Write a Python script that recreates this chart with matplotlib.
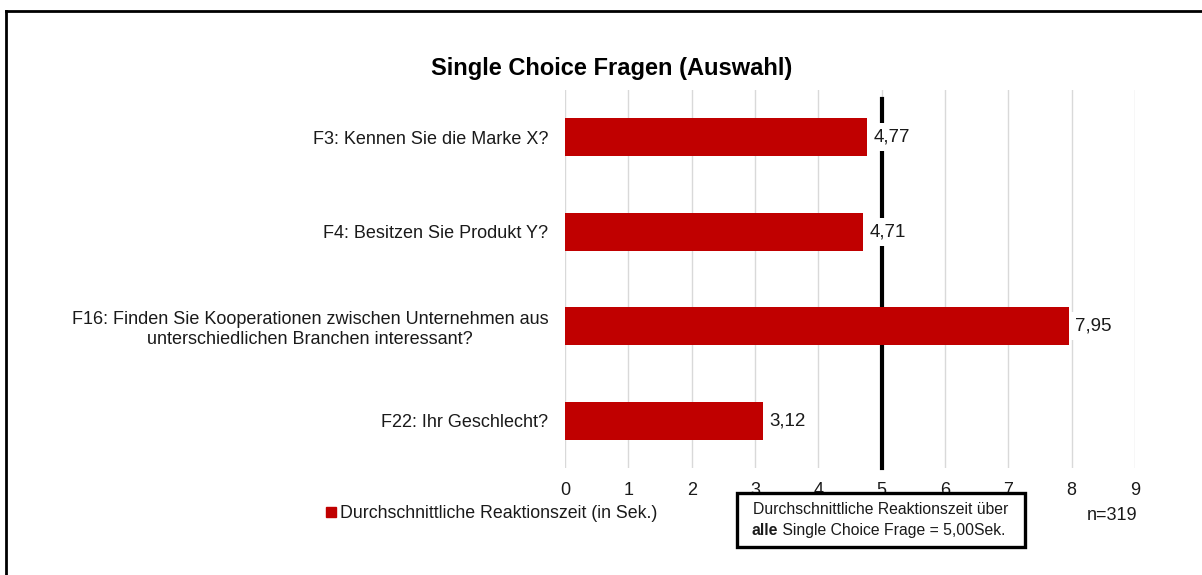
import matplotlib
matplotlib.use("Agg")
import matplotlib.pyplot as plt
from matplotlib.lines import Line2D
from matplotlib.patches import Rectangle

plt.rcParams['font.family'] = ['Liberation Sans', 'DejaVu Sans']

categories = [
    "F3: Kennen Sie die Marke X?",
    "F4: Besitzen Sie Produkt Y?",
    "F16: Finden Sie Kooperationen zwischen Unternehmen aus\nunterschiedlichen Branchen interessant?",
    "F22: Ihr Geschlecht?",
]
values = [4.77, 4.71, 7.95, 3.12]
value_labels = ["4,77", "4,71", "7,95", "3,12"]
average = 5.0
x_ticks = list(range(0, 10))
series_name = "Durchschnittliche Reaktionszeit (in Sek.)"
title = "Single Choice Fragen (Auswahl)"
note = "n=319"
box_line1 = "Durchschnittliche Reaktionszeit über"
box_bold = "alle"
box_line2 = " Single Choice Frage = 5,00Sek."

bar_color = "#C00000"
text_color = "#1a1a1a"

fig = plt.figure(figsize=(12.02, 5.75), dpi=100)
W, H = 1202, 575
# axes: x 565..1135 px, y 90..468 px
ax = fig.add_axes([565 / W, 1 - 468 / H, (1135 - 565) / W, (468 - 90) / H])

ypos = list(range(len(categories)))
ax.barh(ypos, values, height=0.4, color=bar_color, zorder=3)
ax.set_xlim(0, 9)
ax.set_ylim(len(categories) - 0.5, -0.5)
ax.set_xticks(x_ticks)
ax.set_xticklabels([str(t) for t in x_ticks], fontsize=13, color=text_color)
ax.set_yticks(ypos)
ax.set_yticklabels(categories, fontsize=13, color=text_color, multialignment="center")
ax.tick_params(axis="both", length=0)
ax.tick_params(axis="x", pad=10)
ax.tick_params(axis="y", pad=12)
for s in ax.spines.values():
    s.set_visible(False)
ax.grid(axis="x", color="#d9d9d9", linewidth=1, zorder=0)
ax.set_axisbelow(True)

# average line
ax.axvline(average, ymin=0.0, ymax=0.975, color="black", linewidth=3, zorder=2, clip_on=False)

for y, v, lab in zip(ypos, values, value_labels):
    ax.text(v + 0.1, y, lab, va="center", ha="left", fontsize=13.5, color=text_color,
            zorder=4, bbox=dict(facecolor="white", edgecolor="none", pad=4))

fig.text(612 / W, 1 - 68 / H, title, ha="center", va="center", fontsize=17, fontweight="bold")

# legend
leg_handle = Line2D([], [], marker="s", linestyle="none", color=bar_color, markersize=7)
fig.legend([leg_handle], [series_name], loc="center left", bbox_to_anchor=(317 / W, 1 - 514 / H),
           frameon=False, fontsize=12.8, handletextpad=0.1, handlelength=0.8, borderaxespad=0,
           labelcolor=text_color)

fig.text(1112 / W, 1 - 516 / H, note, ha="center", va="center", fontsize=13, color=text_color)

# annotation box
fig.patches.append(Rectangle((737 / W, 1 - 547 / H), (1025 - 737) / W, (547 - 493) / H,
                             transform=fig.transFigure, facecolor="white", edgecolor="black",
                             linewidth=2.4, zorder=5))
fig.text(881 / W, 1 - 514 / H, box_line1, ha="center", va="baseline",
         fontsize=11.3, color=text_color, zorder=6)
t_bold = fig.text(752 / W, 1 - 535 / H, box_bold, ha="left", va="baseline",
                  fontsize=11.3, fontweight="bold", color=text_color, zorder=6)
fig.canvas.draw()
bb = t_bold.get_window_extent(renderer=fig.canvas.get_renderer())
x_end = fig.transFigure.inverted().transform((bb.x1, bb.y0))[0]
fig.text(x_end, 1 - 535 / H, box_line2, ha="left", va="baseline",
         fontsize=11.3, color=text_color, zorder=6)

# outer frame (left and top)
fig.add_artist(Line2D([6 / W, 6 / W], [0, 1 - 11 / H], transform=fig.transFigure, color="black", linewidth=2))
fig.add_artist(Line2D([6 / W, 1], [1 - 11 / H, 1 - 11 / H], transform=fig.transFigure, color="black", linewidth=2))

fig.savefig("out.png", dpi=100, facecolor="white")
